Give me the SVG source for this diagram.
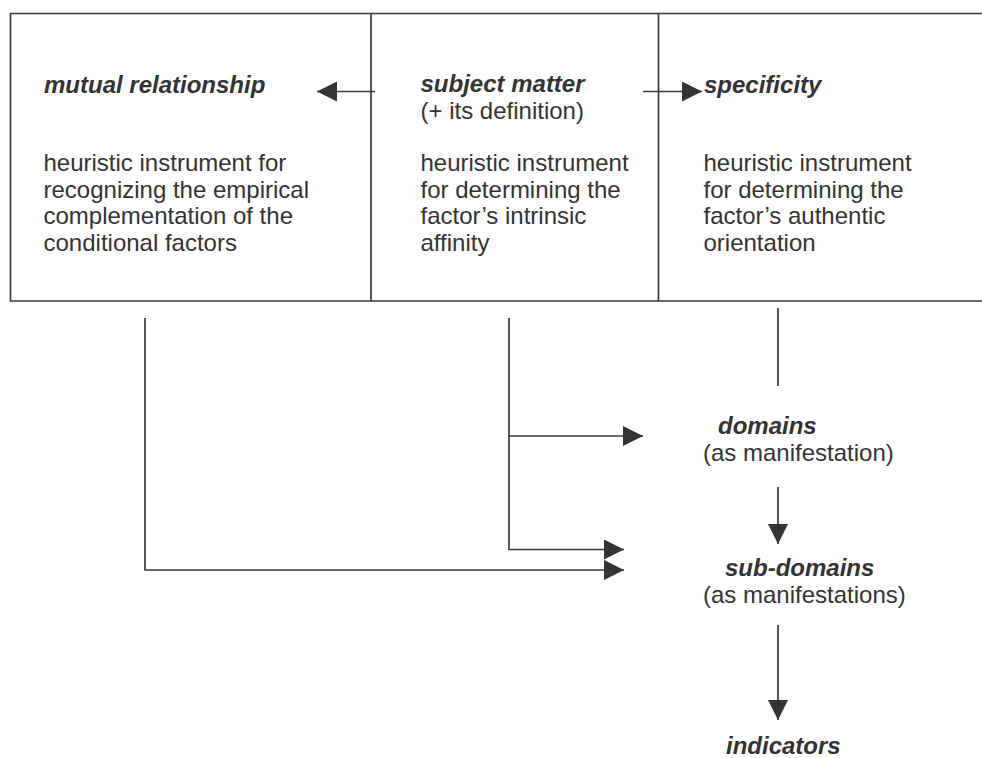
<svg xmlns="http://www.w3.org/2000/svg" width="982" height="758" viewBox="0 0 982 758">
<style>
  .ln { stroke: #3a3a3c; stroke-width: 1.7; fill: none; }
  .t { font-family: "Liberation Sans", Arial, Helvetica, sans-serif; font-size: 24px; fill: #333336; }
  .h { font-weight: bold; font-style: italic; }
</style>
<defs>
  <marker id="ah" viewBox="0 0 20 20" refX="20" refY="10" markerWidth="20" markerHeight="20" markerUnits="userSpaceOnUse" orient="auto">
    <path d="M0,0 L20,10 L0,20 z" fill="#333338"/>
  </marker>
</defs>
<rect width="982" height="758" fill="#ffffff"/>

<g id="frame">
  <path class="ln" d="M982,13.5 H10.5 V301 H982"/>
  <line class="ln" x1="371" y1="13.5" x2="371" y2="301"/>
  <line class="ln" x1="658.5" y1="13.5" x2="658.5" y2="301"/>
</g>

<g id="mutual-relationship">
  <text class="t h" x="44" y="93">mutual relationship</text>
  <text class="t" x="43.5" y="171">heuristic instrument for</text>
  <text class="t" x="43.5" y="197.5">recognizing the empirical</text>
  <text class="t" x="43.5" y="224">complementation of the</text>
  <text class="t" x="43.5" y="250.5">conditional factors</text>
</g>

<g id="subject-matter">
  <text class="t h" x="420.5" y="92">subject matter</text>
  <text class="t" x="420.5" y="119">(+ its definition)</text>
  <text class="t" x="420.5" y="171">heuristic instrument</text>
  <text class="t" x="420.5" y="197.5">for determining the</text>
  <text class="t" x="420.5" y="224">factor’s intrinsic</text>
  <text class="t" x="420.5" y="250.5">affinity</text>
</g>

<g id="specificity">
  <text class="t h" x="704" y="93">specificity</text>
  <text class="t" x="703.5" y="171">heuristic instrument</text>
  <text class="t" x="703.5" y="197.5">for determining the</text>
  <text class="t" x="703.5" y="224">factor’s authentic</text>
  <text class="t" x="703.5" y="250.5">orientation</text>
</g>

<g id="domains">
  <text class="t h" x="718" y="434">domains</text>
  <text class="t" x="703" y="461">(as manifestation)</text>
</g>

<g id="sub-domains">
  <text class="t h" x="725" y="576">sub-domains</text>
  <text class="t" x="703" y="603">(as manifestations)</text>
</g>

<g id="indicators">
  <text class="t h" x="726" y="754">indicators</text>
</g>

<g id="connectors">
  <line class="ln" x1="375" y1="91.5" x2="317" y2="91.5" marker-end="url(#ah)"/>
  <line class="ln" x1="643" y1="91.5" x2="702" y2="91.5" marker-end="url(#ah)"/>
  <line class="ln" x1="778" y1="308" x2="778" y2="386"/>
  <polyline class="ln" points="509,318 509,549.5 624,549.5" marker-end="url(#ah)"/>
  <line class="ln" x1="509" y1="436" x2="643" y2="436" marker-end="url(#ah)"/>
  <polyline class="ln" points="145,318 145,570 624,570" marker-end="url(#ah)"/>
  <line class="ln" x1="778" y1="487" x2="778" y2="544" marker-end="url(#ah)"/>
  <line class="ln" x1="778" y1="625" x2="778" y2="720" marker-end="url(#ah)"/>
</g>
</svg>
